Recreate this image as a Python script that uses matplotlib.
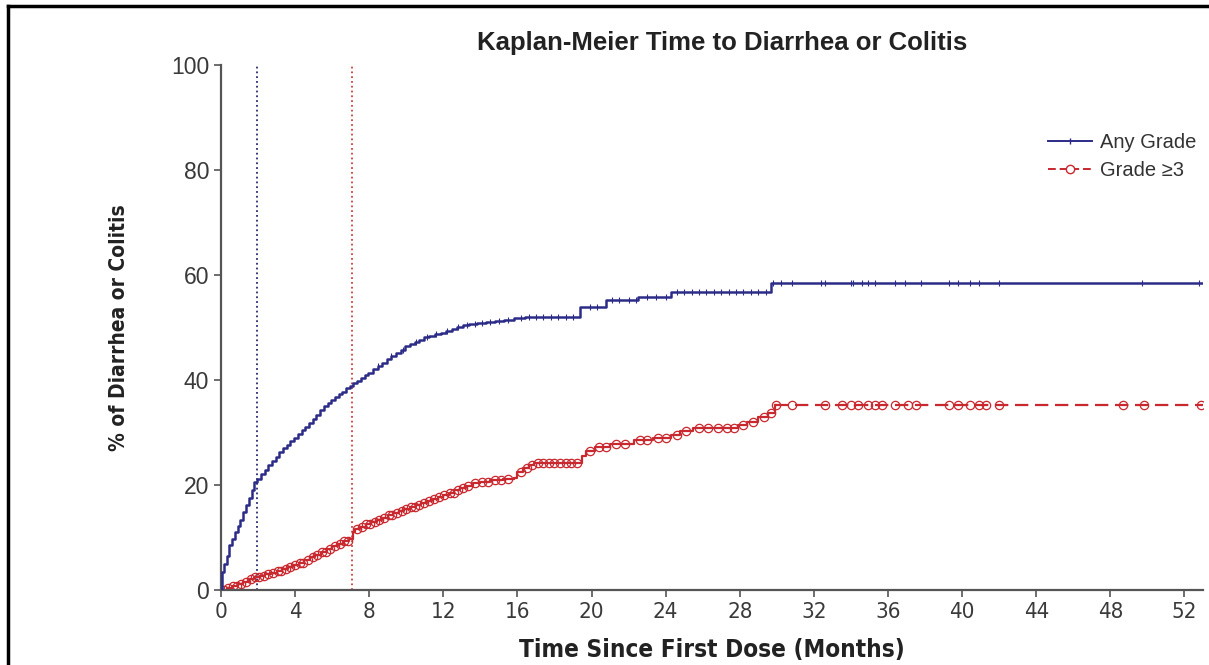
import numpy as np
import matplotlib
matplotlib.use("Agg")
import matplotlib.pyplot as plt
from matplotlib.lines import Line2D

# cumulative incidence (%), step-post
any_t = [0, 0.03, 0.15, 0.3, 0.45, 0.6, 0.75, 0.9, 1.05, 1.2, 1.35, 1.5, 1.65, 1.8, 1.95,
         2.15, 2.35, 2.55, 2.75, 2.95, 3.15, 3.35, 3.55, 3.75, 3.95, 4.15, 4.35, 4.55, 4.75,
         4.95, 5.15, 5.35, 5.55, 5.75, 5.95, 6.15, 6.35, 6.55, 6.75, 6.95, 7.15, 7.35, 7.55,
         7.75, 7.95, 8.2, 8.45, 8.7, 8.95, 9.2, 9.45, 9.7, 9.95, 10.2, 10.45, 10.7, 10.95,
         11.25, 11.55, 11.85, 12.15, 12.45, 12.75, 13.05, 13.4, 13.8, 14.3, 14.8, 15.3, 15.8,
         16.4, 19.4, 20.8, 22.5, 24.3, 29.7, 53.0]
any_v = [0, 3.5, 5.0, 6.5, 8.5, 9.8, 11.0, 12.2, 13.4, 14.8, 16.2, 17.6, 19.0, 20.6, 21.2,
         22.0, 22.9, 23.8, 24.6, 25.4, 26.2, 27.0, 27.7, 28.4, 29.0, 29.7, 30.4, 31.1, 31.8,
         32.6, 33.4, 34.2, 35.0, 35.6, 36.2, 36.8, 37.3, 37.8, 38.4, 38.9, 39.4, 39.9, 40.4,
         40.9, 41.4, 42.0, 42.6, 43.3, 44.0, 44.6, 45.2, 45.8, 46.4, 46.9, 47.3, 47.7, 48.1,
         48.4, 48.7, 49.0, 49.3, 49.7, 50.1, 50.4, 50.6, 50.8, 51.0, 51.2, 51.5, 51.8,
         52.0, 53.9, 55.2, 55.8, 56.8, 58.4, 58.4]
any_cens = [8.5, 9.2, 9.8, 10.5, 11.1, 11.6, 12.2, 12.8, 13.3, 13.7, 14.1, 14.5, 15.0,
            15.5, 16.2, 16.6, 17.0, 17.4, 17.8, 18.2, 18.6, 19.0, 19.9, 20.3, 21.1, 21.5,
            22.0, 22.4, 23.0, 23.5, 24.0, 24.6, 25.0, 25.4, 25.8, 26.2, 26.6, 27.0, 27.4,
            27.8, 28.2, 28.6, 29.0, 29.4, 29.8, 30.2, 30.8, 32.4, 32.6, 34.0, 34.1, 34.6,
            34.9, 35.3, 36.4, 36.9, 37.8, 39.3, 39.8, 40.4, 40.9, 42.0, 49.7, 52.8]

g3_t = [0, 0.3, 0.6, 0.9, 1.2, 1.5, 1.8, 2.1, 2.4, 2.7, 3.0, 3.3, 3.6, 3.9, 4.2, 4.5,
        4.8, 5.1, 5.4, 5.7, 6.0, 6.3, 6.6, 6.9, 7.1, 7.25, 7.5, 7.8, 8.1, 8.4, 8.7, 9.0,
        9.3, 9.6, 9.9, 10.2, 10.5, 10.8, 11.1, 11.4, 11.7, 12.0, 12.3, 12.6, 12.9, 13.2,
        13.6, 14.0, 14.5, 15.2, 15.8, 16.0, 16.3, 16.6, 16.9, 19.5, 19.7, 20.2, 21.0,
        22.3, 23.3, 24.3, 24.8, 25.5, 27.9, 28.4, 29.0, 29.5, 29.9, 53.0]
g3_v = [0, 0.4, 0.8, 1.2, 1.6, 2.0, 2.4, 2.7, 3.0, 3.3, 3.7, 4.0, 4.4, 4.8, 5.2, 5.7,
        6.2, 6.7, 7.2, 7.8, 8.3, 8.8, 9.3, 9.8, 11.0, 11.6, 12.0, 12.5, 12.9, 13.4, 13.8, 14.2,
        14.7, 15.1, 15.5, 15.9, 16.2, 16.6, 17.0, 17.3, 17.7, 18.1, 18.5, 19.0, 19.5, 19.9,
        20.3, 20.6, 20.9, 21.1, 21.4, 22.5, 23.2, 23.8, 24.1, 25.5, 26.4, 27.2, 27.8,
        28.6, 29.0, 29.6, 30.3, 30.8, 31.5, 32.0, 33.0, 33.7, 35.3, 35.3]
g3_cens = [0.15, 0.4, 0.65, 0.85, 1.1, 1.35, 1.6, 1.85, 2.05, 2.3, 2.55, 2.8, 3.05, 3.25,
           3.5, 3.75, 4.0, 4.25, 4.45, 4.7, 4.95, 5.2, 5.45, 5.65, 5.9, 6.15, 6.4, 6.65,
           6.85, 7.35, 7.6, 7.85, 8.05, 8.3, 8.55, 8.8, 9.05, 9.25, 9.5, 9.75, 10.0, 10.25,
           10.45, 10.7, 10.95, 11.2, 11.5, 11.75, 12.05, 12.35, 12.55, 12.8, 13.05, 13.35,
           13.7, 14.1, 14.4, 14.8, 15.1, 15.5, 16.2, 16.5, 16.8, 17.1, 17.4, 17.7, 18.0,
           18.3, 18.6, 18.9, 19.2, 19.9, 20.4, 20.8, 21.3, 21.8, 22.6, 23.0, 23.6, 24.0,
           24.6, 25.1, 25.8, 26.3, 26.8, 27.3, 27.7, 28.2, 28.7, 29.3, 29.7,
           29.95, 30.8, 32.6, 33.5, 34.0, 34.4, 34.9, 35.3, 35.7, 36.4, 37.1, 37.5, 39.3,
           39.8, 40.4, 40.9, 41.3, 42.0, 48.7, 49.8, 52.9]

median_any = 1.94
median_g3 = 7.07

BLUE = "#2c2c88"
RED = "#c8282e"
NARROW = dict(family=["DejaVu Sans", "Liberation Sans"], fontstretch="condensed")


def step_at(ts, vs, x):
    idx = np.searchsorted(ts, x, side="right") - 1
    return np.asarray(vs)[idx]


fig = plt.figure(figsize=(12.09, 6.65), dpi=100)
ax = fig.add_axes([0.1828, 0.1128, 0.995 - 0.1828, 0.9023 - 0.1128])

ax.axvline(median_any, ymin=0, ymax=1, color="#2a2a70", ls=":", lw=1.3, zorder=1)
ax.axvline(median_g3, ymin=0, ymax=1, color="#d04040", ls=":", lw=1.3, zorder=1)

ax.plot(any_t, any_v, drawstyle="steps-post", color=BLUE, lw=1.8, zorder=3)
ax.plot(any_cens, step_at(any_t, any_v, any_cens), ls="none", marker="|",
        ms=5, mew=0.8, color=BLUE, zorder=3)

# rising part looks solid (dense events), plateau is dashed
n_rise = len(g3_t) - 1
ax.plot(g3_t[:n_rise], g3_v[:n_rise], drawstyle="steps-post", color=RED, lw=1.6, zorder=2)
ax.plot(g3_t[n_rise - 1:], g3_v[n_rise - 1:], drawstyle="steps-post", color=RED, lw=1.6,
        ls=(0, (6, 3)), zorder=2)
ax.plot(g3_cens, step_at(g3_t, g3_v, g3_cens), ls="none", marker="o", ms=6,
        mfc="none", mec=RED, mew=0.9, zorder=2)

ax.set_xlim(0, 53)
ax.set_ylim(0, 100)
ax.set_xticks(np.arange(0, 53, 4))
ax.set_yticks(np.arange(0, 101, 20))
ax.spines["top"].set_visible(False)
ax.spines["right"].set_visible(False)
for s in ("left", "bottom"):
    ax.spines[s].set_color("#555555")
    ax.spines[s].set_linewidth(1.6)
ax.tick_params(direction="out", length=5, width=1.2, color="#555555",
               labelcolor="#3a3a3a", labelsize=16.5)
for lab in ax.get_xticklabels():
    lab.set_family(NARROW["family"])
    lab.set_fontstretch("condensed")
    lab.set_fontsize(16)
for lab in ax.get_yticklabels():
    lab.set_family(["Liberation Sans", "DejaVu Sans"])

ax.set_xlabel("Time Since First Dose (Months)", fontsize=17.5, fontweight="bold",
              color="#222222", labelpad=12, **NARROW)
ax.set_ylabel("% of Diarrhea or Colitis", fontsize=15, fontweight="bold",
              color="#222222", labelpad=30, **NARROW)

fig.text(0.597, 0.935, "Kaplan-Meier Time to Diarrhea or Colitis", ha="center", va="center",
         fontsize=18.5, fontweight="bold", family=["Liberation Sans", "DejaVu Sans"], color="#222222")

handles = [Line2D([], [], color=BLUE, lw=1.4, marker="|", ms=5),
           Line2D([], [], color=RED, lw=1.4, ls=(0, (4, 2)), marker="o", ms=6, mfc="white", mec=RED)]
leg = ax.legend(handles, ["Any Grade", "Grade \u22653"], loc="upper right",
                bbox_to_anchor=(1.012, 0.905), frameon=False, handlelength=2.2,
                prop={"family": ["Liberation Sans", "DejaVu Sans"], "size": 14.5},
                labelspacing=0.45, handletextpad=0.4)
for t in leg.get_texts():
    t.set_color("#333333")

# frame around the figure (top and left edges)
fig.add_artist(Line2D([8 / 1209, 8 / 1209], [0, 1 - 6 / 665], transform=fig.transFigure,
                      color="black", lw=2.5))
fig.add_artist(Line2D([8 / 1209, 1], [1 - 6 / 665, 1 - 6 / 665], transform=fig.transFigure,
                      color="black", lw=2.5))

fig.savefig("out.png", dpi=100)
